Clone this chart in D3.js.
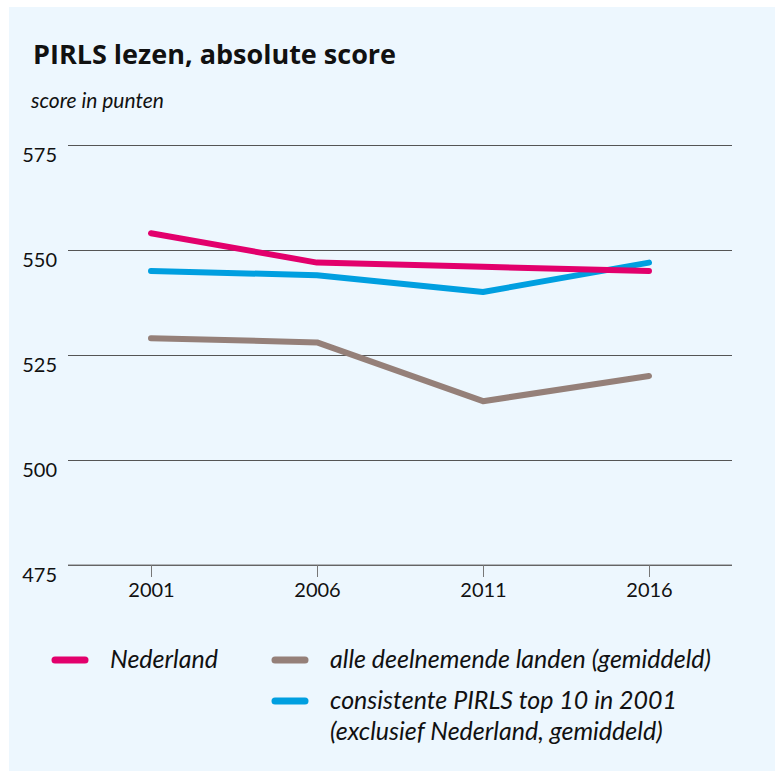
<!DOCTYPE html>
<html><head><meta charset="utf-8">
<script src="https://cdn.jsdelivr.net/npm/d3@7"></script>
<style>body{margin:0;background:#fff}</style>
</head><body>
<script>
const years = ["2001","2006","2011","2016"];
const nederland = [554, 547, 546, 545];
const alleLanden = [529, 528, 514, 520];
const top10 = [545, 544, 540, 547];
const yTicks = [475, 500, 525, 550, 575];
const seriesNames = ["Nederland","alle deelnemende landen (gemiddeld)","consistente PIRLS top 10 in 2001","(exclusief Nederland, gemiddeld)"];
const colors = {ned:"#e2006c", alle:"#958079", top:"#009fe0"};

const W=775,H=771;
const svg=d3.select("body").append("svg").attr("width",W).attr("height",H);
svg.append("rect").attr("x",9).attr("y",7).attr("width",W-9).attr("height",H-7).attr("fill","#edf7fe");

const font="Lato, 'Open Sans', sans-serif";
svg.append("text").attr("x",33).attr("y",64).text("PIRLS lezen, absolute score")
  .attr("font-family","'Open Sans', sans-serif").attr("font-weight","bold").attr("font-size",27).attr("fill","#111");
svg.append("text").attr("x",31).attr("y",108).text("score in punten")
  .attr("font-family",font).attr("font-style","italic").attr("font-size",21).attr("fill","#111");

const x=d3.scalePoint().domain(years).range([151,649]);
const y=d3.scaleLinear().domain([475,575]).range([565,145]);

const gridG=svg.append("g").attr("transform","translate(68,0)")
  .call(d3.axisLeft(y).tickValues(yTicks).tickSize(-664).tickFormat(""));
gridG.select(".domain").remove();
gridG.selectAll(".tick line").attr("stroke","#555").attr("stroke-width",1);

svg.selectAll(".ylab").data(yTicks).enter().append("text")
  .attr("x",57).attr("y",d=>y(d)+17).attr("text-anchor","end").text(d=>d)
  .attr("font-family",font).attr("font-size",20).attr("fill","#111");

const xg=svg.append("g").attr("transform","translate(0,565)")
  .call(d3.axisBottom(x).tickSize(12).tickPadding(6));
xg.select(".domain").remove();
xg.append("line").attr("x1",68).attr("x2",732).attr("stroke","#777").attr("stroke-width",1.2);
xg.selectAll(".tick line").attr("stroke","#777");
xg.selectAll(".tick text").attr("font-family",font).attr("font-size",20).attr("fill","#111");

const line=d3.line().x((d,i)=>x(years[i])).y(d=>y(d));
[[alleLanden,colors.alle],[top10,colors.top],[nederland,colors.ned]].forEach(([s,c])=>{
  svg.append("path").attr("d",line(s)).attr("fill","none").attr("stroke",c)
    .attr("stroke-width",6).attr("stroke-linecap","round").attr("stroke-linejoin","round");
});

const leg=[
  {x:52,y:660,c:colors.ned,t:[seriesNames[0]]},
  {x:272,y:660,c:colors.alle,t:[seriesNames[1]]},
  {x:272,y:701,c:colors.top,t:[seriesNames[2],seriesNames[3]]}
];
leg.forEach(l=>{
  svg.append("line").attr("x1",l.x+3).attr("x2",l.x+33).attr("y1",l.y).attr("y2",l.y)
    .attr("stroke",l.c).attr("stroke-width",7).attr("stroke-linecap","round");
  l.t.forEach((t,i)=>{
    svg.append("text").attr("x",l.x+58).attr("y",l.y+8+i*31).text(t)
      .attr("font-family",font).attr("font-style","italic").attr("font-size",25).attr("fill","#111");
  });
});
</script>
</body></html>
